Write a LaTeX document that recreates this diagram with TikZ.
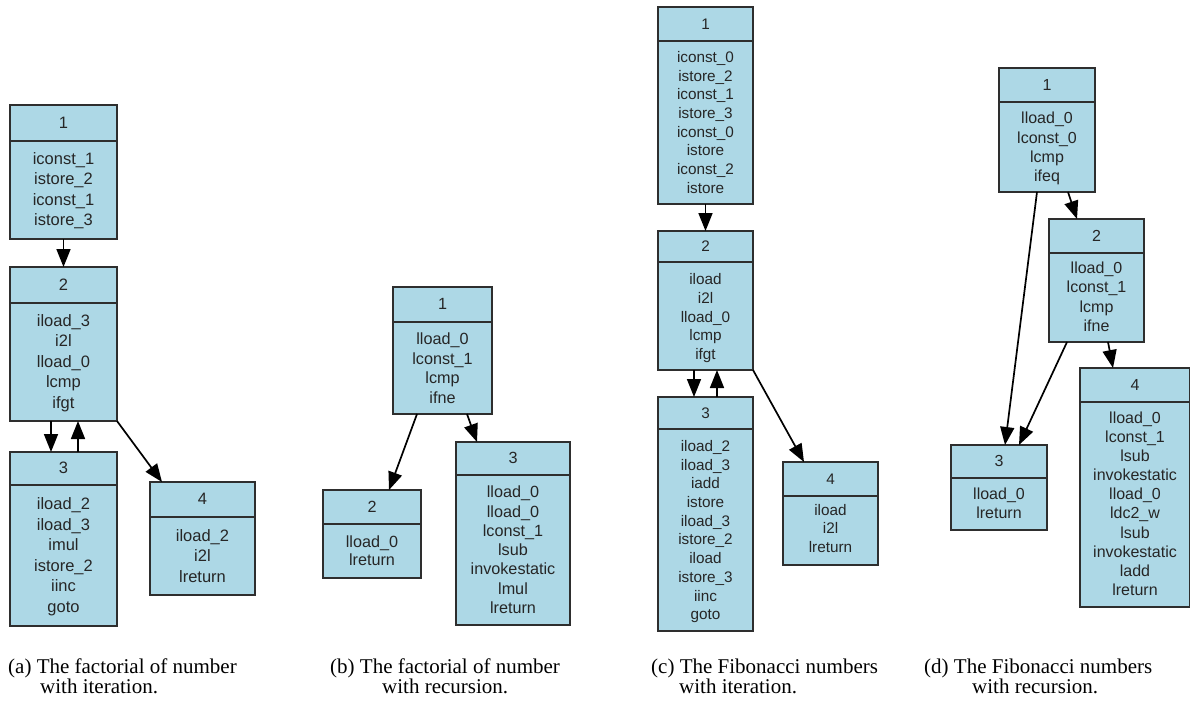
\documentclass[tikz,border=0pt]{standalone}
\usepackage{fontspec}
\setmainfont{Liberation Serif}
\newfontfamily\boxfont{Liberation Sans}
\usetikzlibrary{arrows.meta}
\definecolor{boxfill}{HTML}{ADD8E6}
\definecolor{boxline}{HTML}{2E2E2E}
\definecolor{boxtext}{HTML}{262626}
\def\fsz{16}
\tikzset{
  blockstyle/.style={rectangle, draw=boxline, fill=boxfill, line width=1.6pt, inner sep=0pt, outer sep=0pt},
  divider/.style={draw=boxline, line width=1.6pt},
  linetext/.style={inner sep=0pt, text height=10.8pt, text depth=0pt, text=boxtext,
    font=\boxfont\fontsize{\fsz}{\fsz}\selectfont},
  flow/.style={draw=black, line width=1.7pt, -{Triangle[length=18pt,width=14pt]}},
  captext/.style={anchor=west, inner sep=0pt, text height=13pt, text depth=0pt, text=black,
    font=\fontsize{21}{24}\selectfont}
}
% #1 name, #2 left, #3 top, #4 right, #5 bottom, #6 divider y, #7 label
\newcommand\cfgbox[7]{%
  \node[blockstyle, minimum width={(#4-#2)*1pt}, minimum height={(#5-#3)*1pt}] (#1) at ({(#2+#4)/2},{(#3+#5)/2}) {};
  \draw[divider] (#2,#6) -- (#4,#6);
  \node[linetext] (#1h) at ({(#2+#4)/2},{(#3+#6)/2}) {#7};
}
% #1 name, #2 centre x, #3 first line y, #4 line step, #5 lines
\newcommand\cfglines[5]{%
  \foreach \t [count=\i] in {#5} {
    \node[linetext] (#1-\i) at (#2,{#3+(\i-1)*#4}) {\t};
  }
}
\begin{document}
\begin{tikzpicture}[x=1pt,y=-1pt]
\useasboundingbox (0,0) rectangle (1190,702);
\fill[white] (0,0) rectangle (1190,702);

% ---------------- (a)
\begin{scope}
\def\fsz{16.5}
\cfgbox{a1}{10}{105}{117}{239}{141}{1}
\cfglines{a1}{63.5}{159}{20.3}{iconst\_1,istore\_2,iconst\_1,istore\_3}
\cfgbox{a2}{10}{267}{117}{421}{303}{2}
\cfglines{a2}{63.5}{321}{20.4}{iload\_3,i2l,lload\_0,lcmp,ifgt}
\cfgbox{a3}{10}{452}{117}{626}{485}{3}
\cfglines{a3}{63.5}{504}{20.6}{iload\_2,iload\_3,imul,istore\_2,iinc,goto}
\cfgbox{a4}{150}{482}{255}{595}{517}{4}
\cfglines{a4}{202.5}{536}{20.5}{iload\_2,i2l,lreturn}
\draw[flow] (a1.south) -- (a2.north);
\draw[flow] ([xshift=-12.5pt]a2.south) -- ([xshift=-12.5pt]a3.north);
\draw[flow] ([xshift=14.5pt]a3.north) -- ([xshift=14.5pt]a2.south);
\draw[flow] (a2.south east) -- ([xshift=-40.5pt]a4.north);
\end{scope}

% ---------------- (b)
\begin{scope}
\def\fsz{16.2}
\cfgbox{b1}{393}{287}{492}{414}{322}{1}
\cfglines{b1}{442.5}{339.3}{19.5}{lload\_0,lconst\_1,lcmp,ifne}
\cfgbox{b2}{323}{490}{421}{578}{524}{2}
\cfglines{b2}{372}{541.7}{18.3}{lload\_0,lreturn}
\cfgbox{b3}{456}{442}{570}{625}{475}{3}
\cfglines{b3}{513}{492.3}{19.3}{lload\_0,lload\_0,lconst\_1,lsub,invokestatic,lmul,lreturn}
\draw[flow] ([xshift=-25.5pt]b1.south) -- ([xshift=17pt]b2.north);
\draw[flow] ([xshift=24.5pt]b1.south) -- ([xshift=-36pt]b3.north);
\end{scope}

% ---------------- (c)
\begin{scope}
\def\fsz{15.3}
\cfgbox{c1}{658}{7}{753}{204}{41}{1}
\cfglines{c1}{705.5}{57}{18.7}{iconst\_0,istore\_2,iconst\_1,istore\_3,iconst\_0,istore,iconst\_2,istore}
\cfgbox{c2}{658}{231}{753}{370}{262}{2}
\cfglines{c2}{705.5}{279}{18.8}{iload,i2l,lload\_0,lcmp,ifgt}
\cfgbox{c3}{658}{397}{753}{631}{429}{3}
\cfglines{c3}{705.5}{446}{18.7}{iload\_2,iload\_3,iadd,istore,iload\_3,istore\_2,iload,istore\_3,iinc,goto}
\cfgbox{c4}{783}{462}{878}{565}{496}{4}
\cfglines{c4}{830.5}{510}{18.5}{iload,i2l,lreturn}
\draw[flow] (c1.south) -- (c2.north);
\draw[flow] ([xshift=-11.5pt]c2.south) -- ([xshift=-11.5pt]c3.north);
\draw[flow] ([xshift=11.5pt]c3.north) -- ([xshift=11.5pt]c2.south);
\draw[flow] (c2.south east) -- ([xshift=-26.5pt]c4.north);
\end{scope}

% ---------------- (d)
\begin{scope}
\def\fsz{16}
\cfgbox{d1}{999}{68}{1095}{192}{102}{1}
\cfglines{d1}{1047}{118.3}{19.4}{lload\_0,lconst\_0,lcmp,ifeq}
\cfgbox{d2}{1049}{219}{1144}{342}{253}{2}
\cfglines{d2}{1096.5}{268.3}{19.2}{lload\_0,lconst\_1,lcmp,ifne}
\cfgbox{d3}{951}{445}{1047}{530}{478}{3}
\cfglines{d3}{999}{494}{19}{lload\_0,lreturn}
\cfgbox{d4}{1080}{368}{1190}{607}{402}{4}
\cfglines{d4}{1135}{418}{19.1}{lload\_0,lconst\_1,lsub,invokestatic,lload\_0,ldc2\_w,lsub,invokestatic,ladd,lreturn}
\draw[flow] ([xshift=21pt]d1.south) -- ([xshift=-19.5pt]d2.north);
\draw[flow] ([xshift=-10pt]d1.south) -- ([xshift=6pt]d3.north);
\draw[flow] ([xshift=-29.5pt]d2.south) -- ([xshift=20pt]d3.north);
\draw[flow] ([xshift=11.5pt]d2.south) -- ([xshift=-22pt]d4.north);
\end{scope}

% ---------------- captions
\node[captext] (capa1) at (8,667) {(a) The factorial of number};
\node[captext] (capa2) at (40,687) {with iteration.};
\node[captext] (capb1) at (330,667) {(b) The factorial of number};
\node[captext] (capb2) at (382,687) {with recursion.};
\node[captext] (capc1) at (651,667) {(c) The Fibonacci numbers};
\node[captext] (capc2) at (679,687) {with iteration.};
\node[captext] (capd1) at (924,667) {(d) The Fibonacci numbers};
\node[captext] (capd2) at (972,687) {with recursion.};
\end{tikzpicture}
\end{document}
